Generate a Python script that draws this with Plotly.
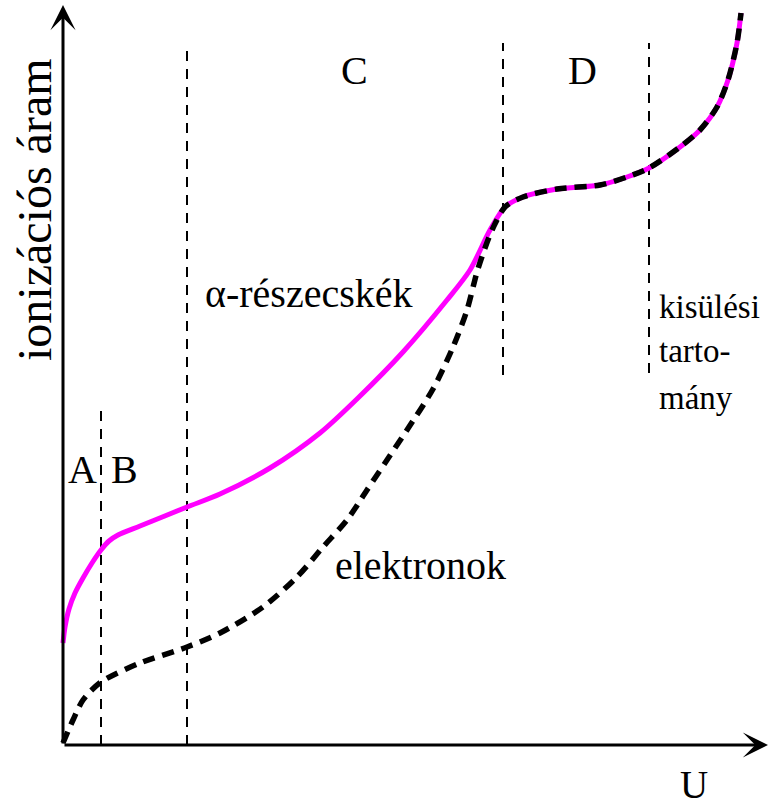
import plotly.graph_objects as go

# Ionization current vs. voltage for an ionization chamber (arbitrary units)
U_alpha = [0, 2, 6, 12, 20, 29, 38, 46, 55, 77, 124, 157, 207, 257, 295, 340,
           384, 407, 427, 442, 460, 494, 537, 564, 586, 617, 637, 654, 665, 674,
           678]
I_alpha = [102, 118, 136, 152, 167, 182, 195, 204, 210, 219, 238, 251, 277, 312,
           347, 393, 445, 475, 515, 538, 548, 556, 560, 568, 577, 598, 615, 638,
           665, 702, 732]

U_elec = [0, 10, 20, 38, 77, 124, 157, 200, 234, 260, 284, 304, 324, 344, 370,
          390, 404, 414, 422, 430, 442, 460, 494, 537, 564, 586, 617, 637, 654,
          665, 674, 678]
I_elec = [2, 25, 45, 63, 82, 98, 112, 138, 168, 198, 225, 255, 285, 315, 356,
          398, 435, 473, 497, 517, 538, 548, 556, 560, 568, 577, 598, 615, 638,
          665, 702, 732]

# Region boundaries (voltage) and their vertical extent
bound_U = [38, 124, 440, 586]
bound_lo = [0, 0, 370, 372]
bound_hi = [337, 702, 702, 702]

# Axis extents
U_max = 705
I_max = 740

SERIF = "Liberation Serif"

fig = go.Figure()

for u, lo, hi in zip(bound_U, bound_lo, bound_hi):
    fig.add_trace(go.Scatter(
        x=[u, u], y=[lo, hi], mode="lines",
        line=dict(color="black", width=2, dash="10px,8px"),
        hoverinfo="skip", showlegend=False))

fig.add_trace(go.Scatter(
    x=U_alpha, y=I_alpha, mode="lines", name="α-részecskék",
    line=dict(color="#ff00ff", width=5, shape="spline", smoothing=0.8),
    showlegend=False))

fig.add_trace(go.Scatter(
    x=U_elec, y=I_elec, mode="lines", name="elektronok",
    line=dict(color="black", width=5.5, dash="12px,8px", shape="spline",
              smoothing=0.8),
    showlegend=False))

# Axes with arrowheads
for (tx, ty) in [(U_max, 0), (0, I_max)]:
    fig.add_annotation(x=tx, y=ty, ax=0, ay=0, axref="x", ayref="y",
                       xref="x", yref="y", text="", showarrow=True,
                       arrowhead=3, arrowsize=1.4, arrowwidth=3,
                       arrowcolor="black")

labels = [
    ("A", 19, 276, 40, "center"),
    ("B", 61, 276, 40, "center"),
    ("C", 291, 675, 40, "center"),
    ("D", 519, 675, 40, "center"),
    ("α-részecskék", 246, 452, 40, "center"),
    ("elektronok", 357, 180, 40, "center"),
    ("kisülési", 594, 438, 33, "left"),
    ("tarto-", 594, 394, 33, "left"),
    ("mány", 594, 347, 33, "left"),
    ("U", 631, -39, 39, "center"),
]
for txt, x, y, size, anchor in labels:
    fig.add_annotation(x=x, y=y, xref="x", yref="y", text=txt,
                       showarrow=False, xanchor=anchor, yanchor="middle",
                       font=dict(family=SERIF, size=size, color="black"))

fig.add_annotation(x=-29, y=535, xref="x", yref="y", text="ionizációs áram",
                   showarrow=False, textangle=-90, xanchor="center",
                   yanchor="middle",
                   font=dict(family=SERIF, size=48, color="black"))

fig.update_layout(
    width=771, height=806,
    margin=dict(l=0, r=0, t=0, b=0),
    paper_bgcolor="white", plot_bgcolor="white",
    font=dict(family=SERIF),
    xaxis=dict(range=[-63, 708], visible=False, fixedrange=True),
    yaxis=dict(range=[-61, 745], visible=False, fixedrange=True),
)

fig.write_html("out.html")
